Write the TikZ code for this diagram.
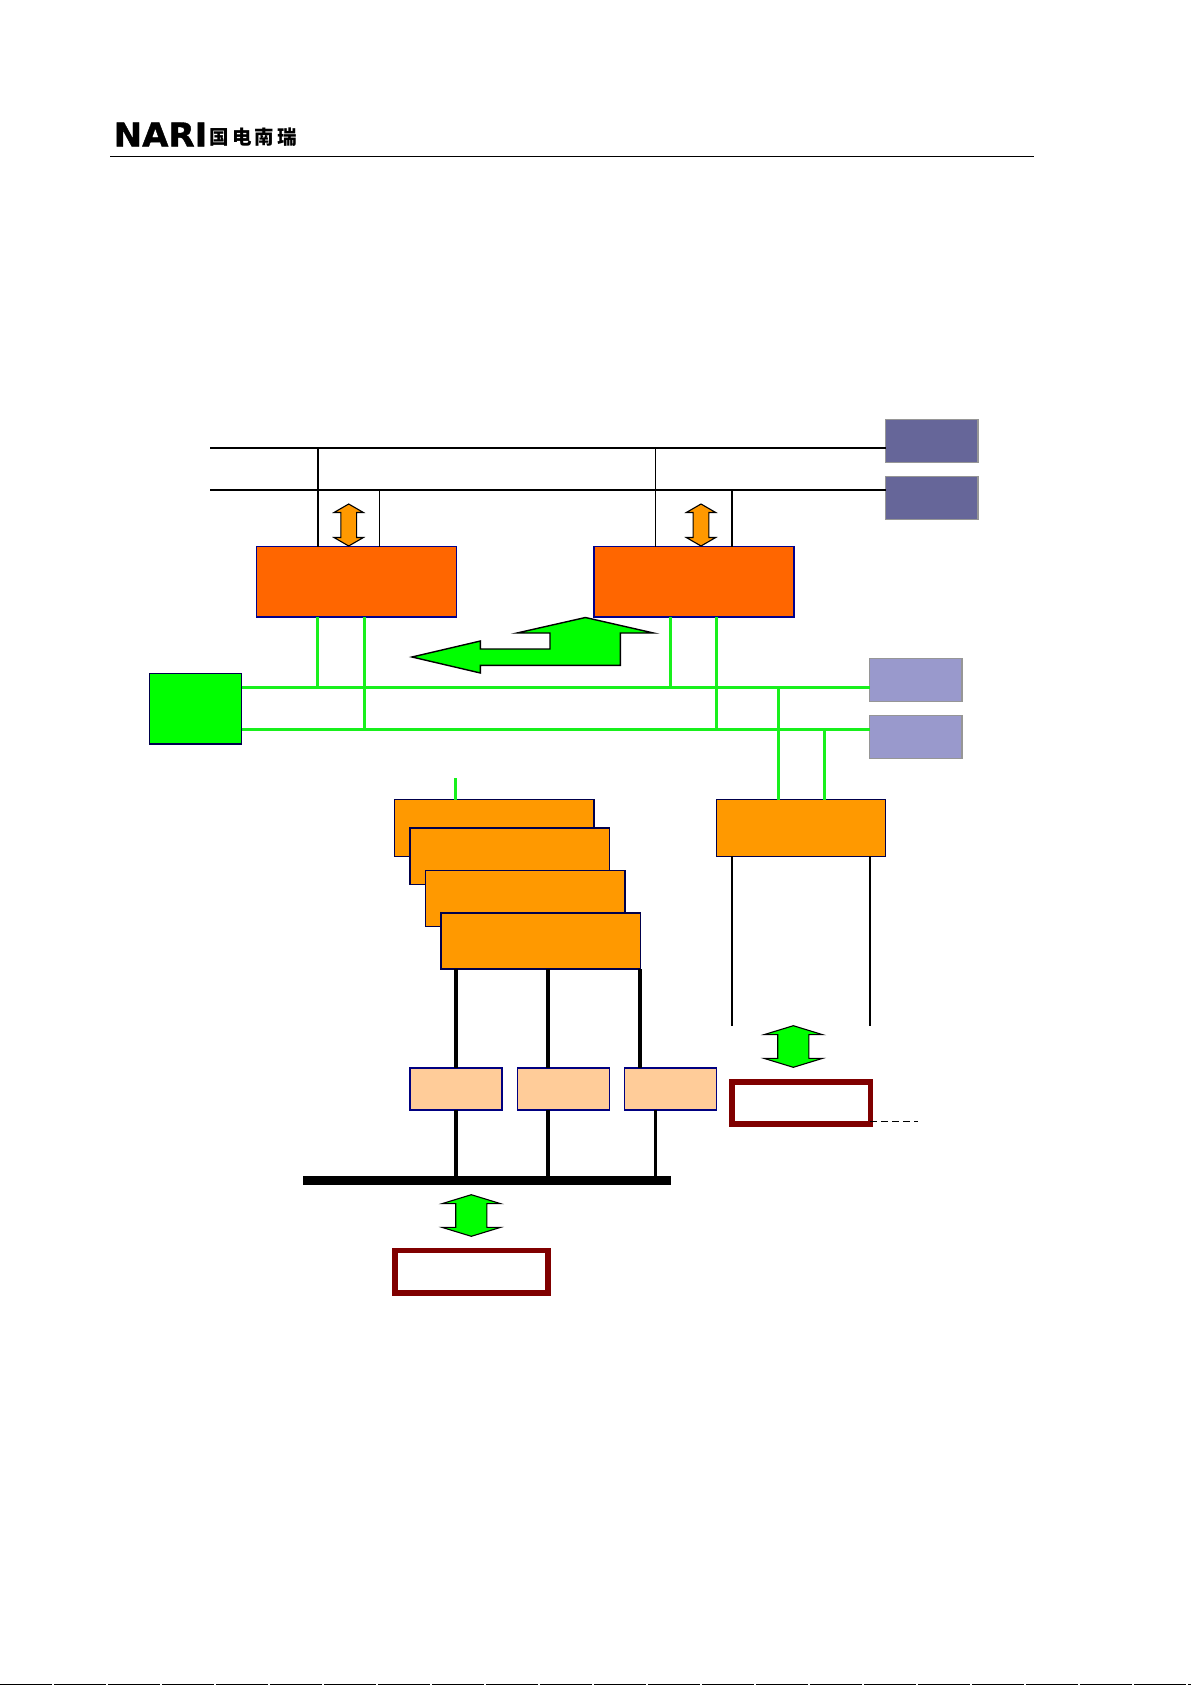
\documentclass[tikz,border=0pt]{standalone}
\usepackage{fontspec}
\newfontfamily\cjkfont{Noto Sans CJK SC}
\newfontfamily\logofont[BoldFeatures={FakeBold=1.2}]{DejaVu Sans}
\usetikzlibrary{shapes.arrows}
\definecolor{busgreen}{RGB}{24,240,28}
\definecolor{fillgreen}{RGB}{0,255,0}
\definecolor{mainorange}{RGB}{255,102,0}
\definecolor{unitorange}{RGB}{255,153,0}
\definecolor{darkslate}{RGB}{102,102,153}
\definecolor{lightslate}{RGB}{153,153,204}
\definecolor{edgegray}{RGB}{150,150,150}
\definecolor{peach}{RGB}{255,204,153}
\definecolor{darkred}{RGB}{128,0,0}
\tikzset{box/.style={rectangle,draw,inner sep=0pt,outer sep=0pt,anchor=north west}}
\tikzset{mainbox/.style={box,fill=mainorange,draw=blue!55!black,line width=1.4pt,minimum width=200pt,minimum height=70.5pt}}
\tikzset{unitbox/.style={box,fill=unitorange,draw=blue!30!black,line width=1.2pt,minimum width=199.5pt,minimum height=56.3pt}}
\tikzset{peachbox/.style={box,fill=peach,draw=blue!50!black,line width=1.5pt,minimum width=92pt,minimum height=42pt}}
\tikzset{slatebox/.style={box,draw=edgegray,line width=1.2pt,minimum width=92.5pt,minimum height=43pt}}
\tikzset{hostbox/.style={box,draw=darkred,line width=5.5pt,fill=white}}
\tikzset{busblack/.style={line width=1.9pt}}
\tikzset{busg/.style={busgreen,line width=2.8pt}}
\tikzset{updown/.style={double arrow,rotate=90,draw,line width=1.1pt,outer sep=0pt,inner xsep=0pt,double arrow head indent=0pt}}
\tikzset{orangearrow/.style={updown,fill=unitorange,inner ysep=7.3pt,minimum height=42pt,double arrow head extend=6.8pt,double arrow tip angle=120}}
\tikzset{greenarrow/.style={updown,fill=fillgreen,inner ysep=15pt,minimum height=41.6pt,double arrow head extend=13.5pt,double arrow tip angle=146}}
\begin{document}
\begin{tikzpicture}[x=1pt,y=-1pt]
    \useasboundingbox (0,0) rectangle (1191,1685);
    % header
    \node[anchor=west,inner sep=0pt,font=\logofont\bfseries\fontsize{33}{33}\selectfont,xscale=1.03] (logo) at (113.5,134.5) {NARI};
    \node[anchor=west,inner sep=0pt,font=\cjkfont\bfseries\fontsize{19.5}{19.5}\selectfont] (logozh) at (209.5,137.5) {国\hspace{3pt}电\hspace{3pt}南\hspace{3pt}瑞};
    \coordinate (rulea) at (110,156.5);
    \coordinate (ruleb) at (1034,156.5);
    \draw[line width=1.2pt] (rulea) -- (ruleb);
    % slate boxes
    \node[slatebox,fill=darkslate] (sa) at (885.5,419.5) {};
    \node[slatebox,fill=darkslate] (sb) at (885.5,476.5) {};
    \node[slatebox,fill=lightslate] (sc) at (869.5,658.5) {};
    \node[slatebox,fill=lightslate] (sd) at (869.5,715.5) {};
    \node[box,fill=fillgreen,draw=blue!30!black,line width=1.2pt,minimum width=92.5pt,minimum height=70.5pt] (gw) at (149.3,673.5) {};
    \node[mainbox] (ma) at (256.5,546.5) {};
    \node[mainbox] (mb) at (593.8,546.5) {};
    % black buses
    \coordinate (bla) at (210,447.7);
    \coordinate (blb) at (210,489.7);
    \draw[busblack] (bla) -- (bla -| sa.west);
    \draw[busblack] (blb) -- (blb -| sb.west);
    \coordinate (xa) at (318.2,0);
    \coordinate (xb) at (379.3,0);
    \coordinate (xc) at (655.3,0);
    \coordinate (xd) at (732,0);
    \draw[line width=1.7pt] (xa |- bla) -- (xa |- ma.north);
    \draw[line width=1.1pt] (xb |- blb) -- (xb |- ma.north);
    \draw[line width=1.1pt] (xc |- bla) -- (xc |- mb.north);
    \draw[line width=1.9pt] (xd |- blb) -- (xd |- mb.north);
    % green buses
    \coordinate (gla) at (241.5,687.3);
    \coordinate (glb) at (241.5,729.3);
    \draw[busg] (gla) -- (gla -| sc.west);
    \draw[busg] (glb) -- (glb -| sd.west);
    \coordinate (xe) at (317.5,0);
    \coordinate (xf) at (364.3,0);
    \coordinate (xg) at (670.3,0);
    \coordinate (xh) at (716.3,0);
    \draw[busg] (xe |- ma.south) -- (xe |- gla);
    \draw[busg] (xf |- ma.south) -- (xf |- glb);
    \draw[busg] (xg |- mb.south) -- (xg |- gla);
    \draw[busg] (xh |- mb.south) -- (xh |- glb);
    % front ends
    \node[unitbox] (ua) at (394.5,799.8) {};
    \node[unitbox] (ub) at (410,827.9) {};
    \node[unitbox] (uc) at (425.5,870.3) {};
    \node[unitbox,line width=1.5pt] (ud) at (441,912.8) {};
    \node[box,fill=unitorange,draw=blue!30!black,line width=1.2pt,minimum width=169pt,minimum height=56.6pt] (ue) at (716.5,799.7) {};
    \coordinate (gs) at (455.3,778);
    \draw[busg] (gs) -- (gs |- ua.north);
    \coordinate (xi) at (778.3,0);
    \coordinate (xj) at (824.3,0);
    \draw[busg] (xi |- gla) -- (xi |- ue.north);
    \draw[busg] (xj |- glb) -- (xj |- ue.north);
    % serial boxes
    \node[peachbox] (pa) at (410,1067.8) {};
    \node[peachbox] (pb) at (517.5,1067.8) {};
    \node[peachbox] (pc) at (624.5,1067.8) {};
    \coordinate (ba) at (303,1180.4);
    \coordinate (bb) at (671,1180.4);
    \draw[line width=9.2pt] (ba) -- (bb);
    \coordinate (xk) at (456,0);
    \coordinate (xl) at (548,0);
    \coordinate (xm) at (640,0);
    \coordinate (xn) at (655.3,0);
    \draw[line width=3.4pt] (xk |- ud.south) -- (xk |- pa.north);
    \draw[line width=3.4pt] (xl |- ud.south) -- (xl |- pb.north);
    \draw[line width=3.4pt] (xm |- ud.south) -- (xm |- pc.north);
    \draw[line width=3.4pt] (xk |- pa.south) -- (xk |- ba);
    \draw[line width=3.4pt] (xl |- pb.south) -- (xl |- ba);
    \draw[line width=3.4pt] (xn |- pc.south) -- (xn |- ba);
    \coordinate (ea) at (732,1025.7);
    \coordinate (eb) at (870,1025.7);
    \draw[line width=2pt] (ea |- ue.south) -- (ea);
    \draw[line width=2pt] (eb |- ue.south) -- (eb);
    % arrows
    \node[orangearrow] (oa) at (348.7,525) {};
    \node[orangearrow] (ob) at (701,525) {};
    \node[greenarrow] (ga) at (471.3,1215.5) {};
    \node[greenarrow] (gb) at (793.3,1046.5) {};
    \draw[fill=fillgreen,line width=1.4pt] (412,657) -- (480.4,641) -- (480.4,649) -- (550,649) -- (550,633) -- (517,633) -- (585.4,617.5) -- (653.5,633) -- (620.4,633) -- (620.4,665.3) -- (480.4,665.3) -- (480.4,673) -- cycle;
    % hosts
    \node[hostbox,minimum width=152.9pt,minimum height=42.3pt] (hb) at (395,1250.7) {};
    \node[hostbox,minimum width=138.5pt,minimum height=41.9pt] (he) at (731.8,1082) {};
    \coordinate (de) at (918.3,1121.3);
    \draw[line width=.8pt,dash pattern=on 7pt off 4pt] (he.south east |- de) -- (de);
    % bottom edge
    \coordinate (edgea) at (0,1684.6);
    \coordinate (edgeb) at (1191,1684.6);
    \draw[line width=1pt,dash pattern=on 52pt off 2pt] (edgea) -- (edgeb);
\end{tikzpicture}
\end{document}
